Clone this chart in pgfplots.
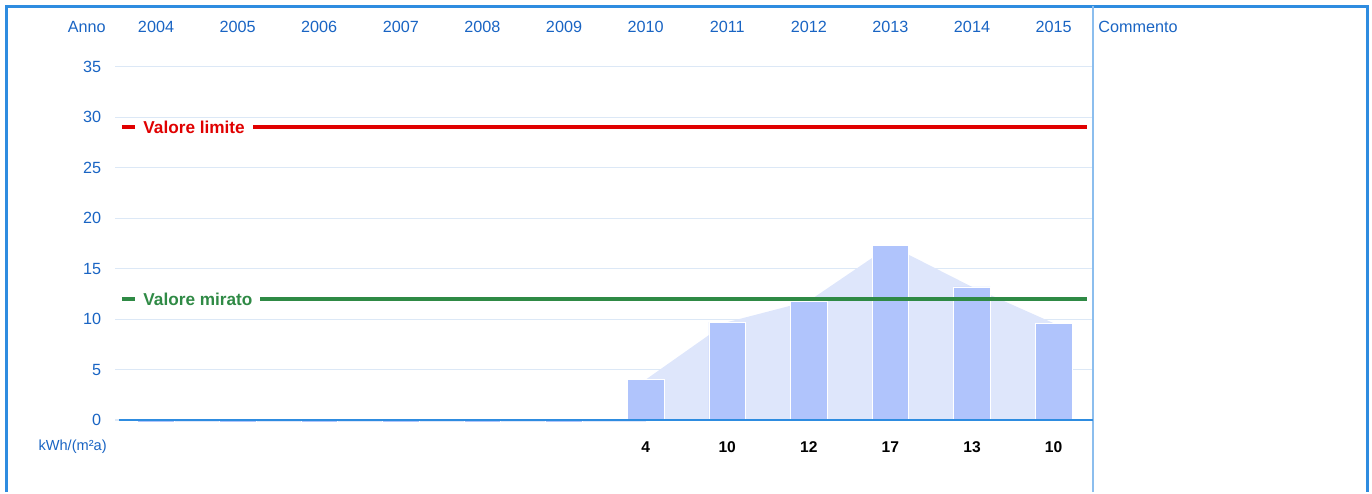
\documentclass[border=0pt]{standalone}
\usepackage{fontspec}
\setmainfont{Liberation Sans}
\usepackage{pgfplots}
\pgfplotsset{compat=1.18}

\definecolor{frameblue}{RGB}{46,140,224}
\definecolor{txtblue}{RGB}{25,100,195}
\definecolor{gridblue}{RGB}{220,232,246}
\definecolor{divblue}{RGB}{140,190,238}
\definecolor{barblue}{RGB}{176,196,252}
\definecolor{areablue}{RGB}{222,230,251}
\definecolor{limred}{RGB}{224,0,0}
\definecolor{tgtgreen}{RGB}{47,138,69}

\begin{document}
\begin{tikzpicture}
\begin{axis}[
    x=40.8pt, y=5.045pt,
    xmin=-0.5, xmax=11.5,
    ymin=-1, ymax=38.95,
    clip=false,
    axis line style={draw=none},
    major tick length=0pt,
    xtick={0,1,2,3,4,5,6,7,8,9,10,11},
    xticklabels={2004,2005,2006,2007,2008,2009,2010,2011,2012,2013,2014,2015},
    xticklabel pos=upper,
    xticklabel style={anchor=center, text=txtblue},
    ytick={0,5,10,15,20,25,30,35},
    yticklabel style={text=txtblue, xshift=-3.5pt},
    ymajorgrids,
    grid style={gridblue, line width=0.6pt},
    /pgf/number format/assume math mode=true,
    font=\fontsize{8.1}{9.7}\selectfont,
]
% page extent and frame
\path (axis cs:-1.912,-7.136) rectangle (axis cs:14.902,41.63);
\draw[frameblue, line width=1.5pt] (axis cs:-1.838,-7.136) -- (axis cs:-1.838,41.03)
    -- (axis cs:14.841,41.03) -- (axis cs:14.841,-7.136);
\draw[divblue, line width=0.8pt] (axis cs:11.483,-7.136) -- (axis cs:11.483,41.03);

% shaded area
\addplot[fill=areablue, draw=none] coordinates {
    (0,0) (0,-0.2) (6,-0.2) (6,0)
} -- cycle;
\addplot[fill=areablue, draw=none] coordinates {
    (6,0) (6,4.0) (7,9.7) (8,11.8) (9,17.3) (10,13.2) (11,9.6) (11,0)
} -- cycle;

% bars
\addplot[ybar, bar width=0.45, fill=barblue, draw=white, line width=0.3pt] coordinates {
    (0,-0.2) (1,-0.2) (2,-0.2) (3,-0.2) (4,-0.2) (5,-0.2)
    (6,4.0) (7,9.7) (8,11.8) (9,17.3) (10,13.2) (11,9.6)
};

% zero line
\draw[frameblue, line width=0.8pt] (axis cs:-0.45,0) -- (axis cs:11.483,0);

% limit and target lines
\addplot[limred, line width=2pt] coordinates {(-0.417,29) (11.41,29)};
\addplot[tgtgreen, line width=2pt] coordinates {(-0.417,12) (11.41,12)};
\node[anchor=west, fill=white, inner xsep=4pt, inner ysep=1pt, text=limred,
      font=\fontsize{8.6}{10}\selectfont\bfseries] at (axis cs:-0.257,29) {Valore limite};
\node[anchor=west, fill=white, inner xsep=4pt, inner ysep=1pt, text=tgtgreen,
      font=\fontsize{8.6}{10}\selectfont\bfseries] at (axis cs:-0.257,12) {Valore mirato};

% value row
\addplot[draw=none, mark=none, nodes near coords, point meta=explicit symbolic,
    every node near coord/.append style={anchor=center, text=black,
      font=\fontsize{7.8}{9.5}\selectfont\bfseries}] coordinates {
    (6,-2.68)[4] (7,-2.68)[10] (8,-2.68)[12] (9,-2.68)[17] (10,-2.68)[13] (11,-2.68)[10]
};

% header and unit texts
\node[anchor=east, inner sep=0pt, text=txtblue] at (axis cs:-0.613,38.95) {Anno};
\node[anchor=west, inner sep=0pt, text=txtblue] at (axis cs:11.544,38.95) {Commento};
\node[anchor=east, inner sep=0pt, text=txtblue,
      font=\fontsize{7.3}{9}\selectfont] at (axis cs:-0.6,-2.68) {kWh/(m²a)};
\end{axis}
\end{tikzpicture}
\end{document}
